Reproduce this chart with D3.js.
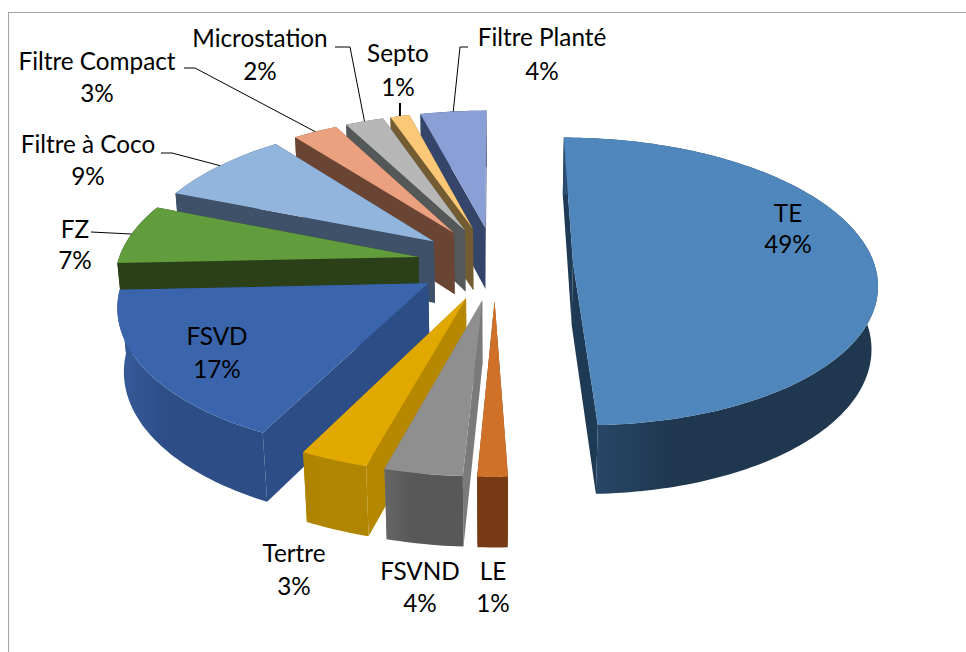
<!doctype html>
<html>
<head>
<meta charset="utf-8">
<title>Filieres</title>
<script src="https://d3js.org/d3.v7.min.js"></script>
<style>
  html, body { margin: 0; padding: 0; background: #fff; }
  svg { display: block; }
  text { font-family: Lato, "Open Sans", sans-serif; font-size: 24.3px; fill: #000; text-anchor: middle; }
</style>
</head>
<body>
<script>
// values, in pie order (clockwise from 12 o'clock)
var categories = ["TE", "LE", "FSVND", "Tertre", "FSVD", "FZ", "Filtre à Coco", "Filtre Compact", "Microstation", "Septo", "Filtre Planté"];
var shares = [49.4, 1.36, 3.53, 3.1, 16.9, 6.75, 8.45, 2.8, 2.4, 1.2, 4.1];
var percentLabels = ["49%", "1%", "4%", "3%", "17%", "7%", "9%", "3%", "2%", "1%", "4%"];

// colours: top face, cut wall, outer wall left, outer wall right
var topColors = ["#4F87BC", "#D07129", "#8F8F8F", "#E1A900", "#3A65AC", "#619C3D", "#92B5DD", "#EBA07F", "#B7B7B7", "#FAC876", "#8A9FD6"];
var cutColors = ["#1E3A55", "#763A14", "#7A7A7A", "#B58800", "#2C4D85", "#2B3F18", "#3F5169", "#6A4533", "#555859", "#735B32", "#35456A"];
var wallLeft = ["#2C4D70", "#763A14", "#666666", "#AF8300", "#375B9B", "#2B3F18", "#3F5169", "#6A4533", "#555859", "#735B32", "#35456A"];
var wallRight = ["#1F374F", "#763A14", "#585858", "#B08500", "#2C4D85", "#2B3F18", "#3F5169", "#6A4533", "#555859", "#735B32", "#35456A"];

// label placement: centre x, first baseline, second baseline
var labelAt = [[788, 222, 253], [493, 580, 612], [420, 580, 612], [294, 562, 595], [217, 345, 378], [75, 238, 269],
               [88, 153, 185], [97, 70, 102], [260, 47, 80], [398, 62, 96], [542, 46, 80]];
// leader start points (null = no leader)
var leaderFrom = [null, null, null, null, null, [[91, 232]], [[161, 153], [172, 153]], [[184, 68], [195, 68]],
                  [[335, 47], [350, 47]], [[400, 103]], [[468, 47], [460, 47]]];

var width = 966, height = 652;
var cx = 495, cy = 263;        // where the un-exploded pie centre lands
var radius = 301, explode = 78, thick = 72;
var sinA = 0.47, cosA = Math.sqrt(1 - sinA * sinA), camera = 2000;

var svg = d3.select("body").append("svg").attr("width", width).attr("height", height);
var defs = svg.append("defs");

// frame of the chart area, runs off the right and bottom
svg.append("rect").attr("x", 8.5).attr("y", 12.5).attr("width", 1000).attr("height", 700)
  .attr("fill", "#fff").attr("stroke", "#a3a3a3").attr("stroke-width", 1);

// world: x right, y up, z towards the viewer
function project(x, y, z) {
  var zc = y * sinA + z * cosA;
  var f = camera / (camera - zc);
  return [cx + x * f, cy + (z * sinA - y * cosA) * f];
}

var arcs = d3.pie().sort(null).value(function(d) { return d; })(shares);
var line = d3.line();
var slices = arcs.map(function(a, i) {
  var mid = (a.startAngle + a.endAngle) / 2;
  var ox = explode * Math.sin(mid), oz = -explode * Math.cos(mid);
  var n = Math.max(2, Math.ceil((a.endAngle - a.startAngle) / 0.02));
  var ang = d3.range(n + 1).map(function(k) { return a.startAngle + (a.endAngle - a.startAngle) * k / n; });
  function rim(t, y) { return project(ox + radius * Math.sin(t), y, oz - radius * Math.cos(t)); }
  return {
    i: i, mid: mid, ang: ang, rim: rim,
    apexTop: project(ox, 0, oz), apexBot: project(ox, -thick, oz)
  };
});

// back to front
var order = slices.slice().sort(function(a, b) { return d3.ascending(-Math.cos(a.mid), -Math.cos(b.mid)); });

order.forEach(function(s) {
  var i = s.i, a0 = s.ang[0], a1 = s.ang[s.ang.length - 1];
  var g = svg.append("g");

  // cut walls
  [a1, a0].forEach(function(t) {
    g.append("path")
      .attr("d", line([s.apexTop, s.rim(t, 0), s.rim(t, -thick), s.apexBot]) + "Z")
      .attr("fill", cutColors[i]);
  });

  // outer wall
  var grad = defs.append("linearGradient").attr("id", "wall" + i);
  grad.append("stop").attr("offset", "0%").attr("stop-color", wallLeft[i]);
  grad.append("stop").attr("offset", "35%").attr("stop-color", wallRight[i]);
  grad.append("stop").attr("offset", "100%").attr("stop-color", wallRight[i]);
  var topRim = s.ang.map(function(t) { return s.rim(t, 0); });
  var botRim = s.ang.map(function(t) { return s.rim(t, -thick); }).reverse();
  g.append("path").attr("d", line(topRim.concat(botRim)) + "Z").attr("fill", "url(#wall" + i + ")");

  // top face
  g.append("path").attr("d", line([s.apexTop].concat(topRim)) + "Z").attr("fill", topColors[i]);
});

// leaders end on the middle of the slice's rim
slices.forEach(function(s) {
  if (!leaderFrom[s.i]) return;
  var pts = leaderFrom[s.i].concat([s.rim(s.mid, 0)]);
  svg.append("path").attr("d", line(pts)).attr("fill", "none").attr("stroke", "#000")
    .attr("stroke-width", s.i === 9 ? 2 : 1);
});

// labels
categories.forEach(function(c, i) {
  var p = labelAt[i];
  svg.append("text").attr("x", p[0]).attr("y", p[1]).text(c);
  svg.append("text").attr("x", p[0]).attr("y", p[2]).text(percentLabels[i]);
});
</script>
</body>
</html>
